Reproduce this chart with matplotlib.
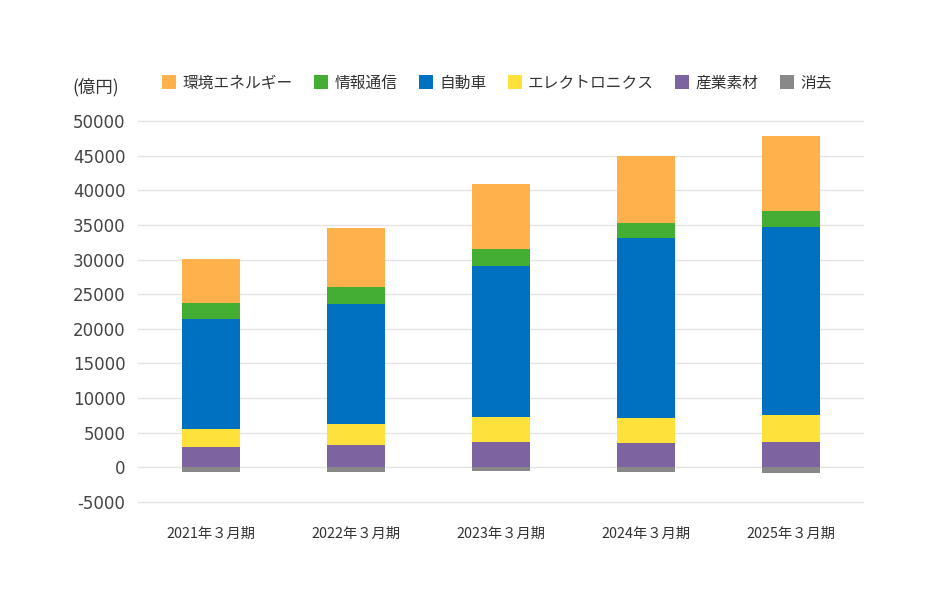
import numpy as np
import matplotlib.pyplot as plt
from matplotlib.patches import Patch

plt.rcParams['font.family'] = ['Noto Sans CJK JP', 'DejaVu Sans']

# データ（億円）
periods = ['2021年３月期', '2022年３月期', '2023年３月期', '2024年３月期', '2025年３月期']
sangyo = [2970, 3210, 3600, 3560, 3700]          # 産業素材
electronics = [2560, 2990, 3650, 3590, 3800]     # エレクトロニクス
jidousha = [15870, 17450, 21790, 25980, 27260]   # 自動車
joho = [2350, 2400, 2540, 2110, 2300]            # 情報通信
kankyo = [6350, 8460, 9380, 9760, 10740]         # 環境エネルギー
shokyo = [-650, -720, -530, -680, -780]          # 消去

names = ['環境エネルギー', '情報通信', '自動車', 'エレクトロニクス', '産業素材', '消去']
colors = {'環境エネルギー': '#FFB24C', '情報通信': '#43AE33', '自動車': '#0070C0',
          'エレクトロニクス': '#FFE13C', '産業素材': '#7D63A0', '消去': '#888888'}

fig = plt.figure(figsize=(9.34, 6.08), dpi=100)
ax = fig.add_axes([138 / 934, 1 - 502 / 608, 725 / 934, 381 / 608])

x = np.arange(len(periods))
w = 0.4

# 積み上げ（正の値）
bottom = np.zeros(len(periods))
for name, vals in [('産業素材', sangyo), ('エレクトロニクス', electronics),
                   ('自動車', jidousha), ('情報通信', joho), ('環境エネルギー', kankyo)]:
    ax.bar(x, vals, w, bottom=bottom, color=colors[name], zorder=3)
    bottom += np.array(vals)

# 消去（負の値）
ax.bar(x, shokyo, w, color=colors['消去'], zorder=3)

ax.set_xlim(-0.5, len(periods) - 0.5)
ax.set_ylim(-5000, 50000)
ax.set_yticks(np.arange(-5000, 50001, 5000))
ax.set_yticklabels([str(v) for v in range(-5000, 50001, 5000)],
                   family='DejaVu Sans', fontsize=12, color='#444444')
ax.set_xticks(x)
ax.set_xticklabels(periods, fontsize=10.3, color='#333333')
ax.tick_params(axis='y', length=0, pad=9)
ax.tick_params(axis='x', length=0, pad=18)
ax.grid(axis='y', color='#e4e4e4', linewidth=1, zorder=0)
for gl in ax.get_ygridlines():
    gl.set_clip_on(False)
for s in ax.spines.values():
    s.set_visible(False)

# 凡例
handles = [Patch(facecolor=colors[n], label=n) for n in names]
fig.legend(handles=handles, loc='center', bbox_to_anchor=(497 / 934, 1 - 83 / 608),
           ncol=6, frameon=False, fontsize=11.3, handlelength=0.9, handleheight=1.0,
           handletextpad=0.4, columnspacing=1.35, labelcolor='#333333')

fig.text(72 / 934, 1 - 87 / 608, '(億円)', fontsize=12.5, color='#333333',
         ha='left', va='center')

fig.savefig('out.png', dpi=100)
